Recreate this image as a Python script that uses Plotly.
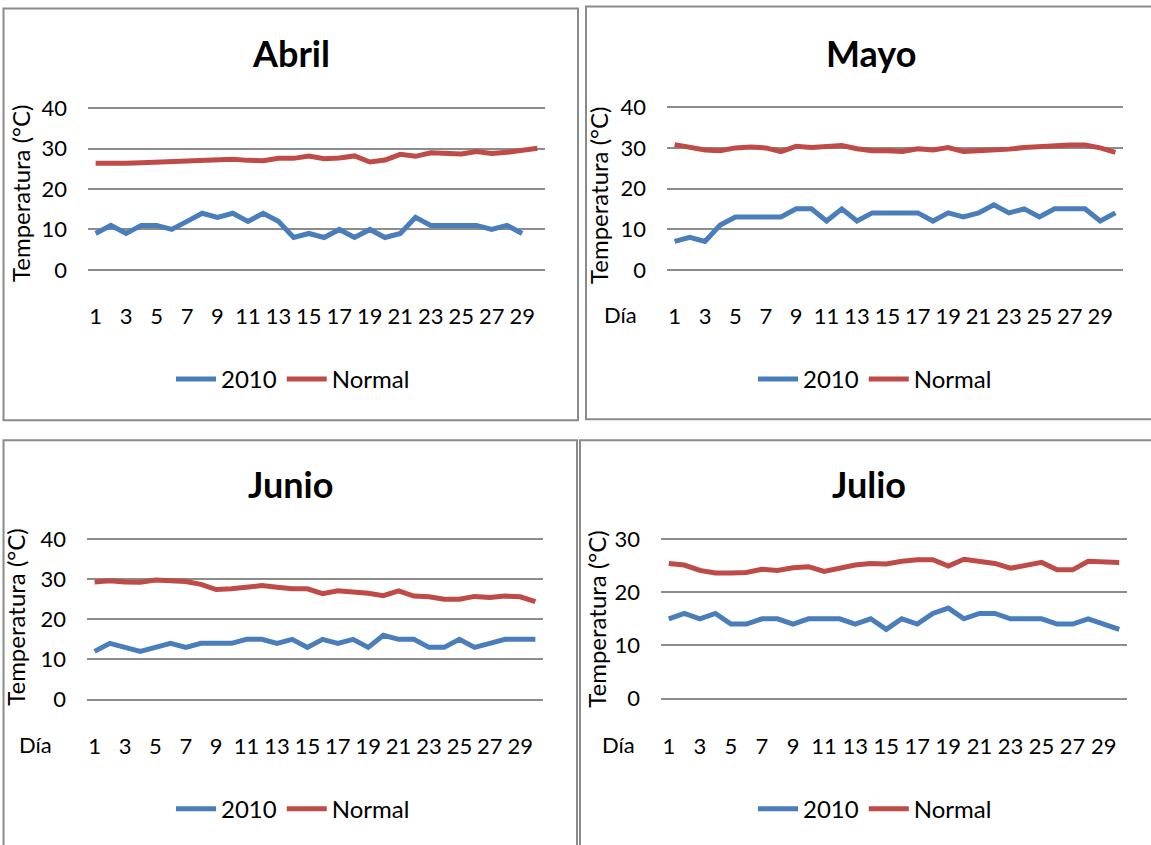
import plotly.graph_objects as go

days = list(range(1, 31))
tick_vals = list(range(1, 31, 2))
tick_text = [str(v) for v in tick_vals]

abril_2010 = [9, 11, 9, 11, 11, 10, 12, 14, 13, 14, 12, 14, 12, 8, 9, 8, 10, 8, 10, 8,
              9, 13, 11, 11, 11, 11, 10, 11, 9, None]
abril_normal = [26.4, 26.3, 26.4, 26.5, 26.7, 26.9, 27.1, 27.2, 27.3, 27.4, 27.1, 27.0, 27.6, 27.6, 28.2,
                27.5, 27.7, 28.2, 26.7, 27.2, 28.6, 28.1, 29.0, 28.7, 28.7, 29.3, 28.8, 29.1, 29.5, 30.1]

mayo_2010 = [7, 8, 7, 11, 13, 13, 13, 13, 15, 15, 12, 15, 12, 14, 14, 14, 14, 12, 14, 13,
             14, 16, 14, 15, 13, 15, 15, 15, 12, 14]
mayo_normal = [30.8, 30.2, 29.5, 29.3, 30.0, 30.2, 30.0, 29.1, 30.4, 30.1, 30.4, 30.6, 29.8, 29.3, 29.3,
               29.1, 29.8, 29.5, 30.1, 29.1, 29.3, 29.4, 29.7, 30.1, 30.4, 30.6, 30.7, 30.7, 30.0, 28.9]

junio_2010 = [12, 14, 13, 12, 13, 14, 13, 14, 14, 14, 15, 15, 14, 15, 13, 15, 14, 15, 13, 16,
              15, 15, 13, 13, 15, 13, 14, 15, 15, 15]
junio_normal = [29.3, 29.6, 29.3, 29.2, 29.8, 29.7, 29.4, 28.7, 27.4, 27.6, 28.0, 28.4, 28.0, 27.6, 27.6,
                26.4, 27.1, 26.9, 26.5, 25.9, 27.1, 25.8, 25.6, 25.0, 25.0, 25.7, 25.4, 25.8, 25.6, 24.4]

julio_2010 = [15, 16, 15, 16, 14, 14, 15, 15, 14, 15, 15, 15, 14, 15, 13, 15, 14, 16, 17, 15,
              16, 16, 15, 15, 15, 14, 14, 15, 14, 13]
julio_normal = [25.4, 25.1, 24.1, 23.6, 23.6, 23.7, 24.3, 24.1, 24.6, 24.8, 23.9, 24.6, 25.1, 25.4, 25.3,
                25.8, 26.1, 26.1, 24.9, 26.2, 25.7, 25.4, 24.5, 25.1, 25.6, 24.2, 24.2, 25.8, 25.8, 25.6]

panels = [
    ("Abril", abril_2010, abril_normal, 40),
    ("Mayo", mayo_2010, mayo_normal, 40),
    ("Junio", junio_2010, junio_normal, 40),
    ("Julio", julio_2010, julio_normal, 30),
]

W, H = 1151, 845
FONT = "Lato"
BLUE = "#4A7EBB"
RED = "#BE4B48"
GRID = "#8C8C8C"
VSTRETCH = 1.02
VCENTER = 430


def px(x):
    return x / W


def py(y):
    y = VCENTER + (y - VCENTER) * VSTRETCH
    return 1 - y / H


# layout geometry (pixels): plot area x0, x1, y_top(max), y_bottom(0)
geo = [
    dict(x0=88, x1=545, yt=107, yb=269, title=(291, 52), ytitle=(20, 192), dia=None, leg=(293, 379),
         box=(3.5, 578, 7, 420)),
    dict(x0=667, x1=1123, yt=106, yb=269, title=(871, 52), ytitle=(598, 194), dia=(620, 314), leg=(875, 379),
         box=(586, 1170, 5, 419)),
    dict(x0=87, x1=543, yt=539, yb=700, title=(290, 484), ytitle=(16, 617), dia=(35, 745), leg=(293, 810),
         box=(3.5, 577, 440, 880)),
    dict(x0=661, x1=1127, yt=539, yb=699, title=(869, 484), ytitle=(597, 619), dia=(618, 745), leg=(875, 810),
         box=(580, 1170, 440, 880)),
]

fig = go.Figure()
annotations = []
shapes = []
layout_extra = {}
PAD = 1.0  # data units of padding so edge gridlines are drawn

for i, ((name, s2010, snorm, ymax), g) in enumerate(zip(panels, geo)):
    n = "" if i == 0 else str(i + 1)
    leg = "legend" if i == 0 else f"legend{i + 1}"
    fig.add_trace(go.Scatter(x=days, y=s2010, mode="lines", name="2010",
                             line=dict(color=BLUE, width=5), xaxis=f"x{n}", yaxis=f"y{n}",
                             legend=leg, connectgaps=False))
    fig.add_trace(go.Scatter(x=days, y=snorm, mode="lines", name="Normal",
                             line=dict(color=RED, width=5), xaxis=f"x{n}", yaxis=f"y{n}",
                             legend=leg))
    ppu = (g["yb"] - g["yt"]) / ymax
    dom_bottom = g["yb"] + PAD * ppu
    dom_top = g["yt"] - PAD * ppu
    layout_extra[f"xaxis{n}"] = dict(
        domain=[px(g["x0"]), px(g["x1"])], range=[0.5, 30.5], anchor=f"y{n}",
        tickvals=tick_vals, ticktext=tick_text, showgrid=False, zeroline=False,
        showline=False, ticks="", ticklabelstandoff=27,
        tickfont=dict(family=FONT, size=22, color="black"), fixedrange=True)
    layout_extra[f"yaxis{n}"] = dict(
        domain=[py(dom_bottom), py(dom_top)], range=[-PAD, ymax + PAD], anchor=f"x{n}",
        tickvals=list(range(0, ymax + 1, 10)), showgrid=True, gridcolor=GRID, gridwidth=1.5,
        zeroline=False, showline=False, ticks="", ticklabelstandoff=20,
        tickfont=dict(family=FONT, size=22, color="black"), fixedrange=True)
    layout_extra[leg] = dict(
        orientation="h", x=px(g["leg"][0]), y=py(g["leg"][1]), xanchor="center", yanchor="middle",
        xref="paper", yref="paper", font=dict(family=FONT, size=24, color="black"),
        bgcolor="rgba(0,0,0,0)", itemwidth=40, tracegroupgap=0)
    annotations.append(dict(text=f"<b>{name}</b>", x=px(g["title"][0]), y=py(g["title"][1]),
                            xref="paper", yref="paper", showarrow=False, xanchor="center",
                            yanchor="middle", font=dict(family=FONT, size=36, color="black")))
    annotations.append(dict(text="Temperatura (°C)", x=px(g["ytitle"][0]), y=py(g["ytitle"][1]),
                            xref="paper", yref="paper", showarrow=False, textangle=-90,
                            xanchor="center", yanchor="middle",
                            font=dict(family=FONT, size=24, color="black")))
    if g["dia"]:
        annotations.append(dict(text="Día", x=px(g["dia"][0]), y=py(g["dia"][1]),
                                xref="paper", yref="paper", showarrow=False,
                                xanchor="center", yanchor="middle",
                                font=dict(family=FONT, size=22, color="black")))
    bx0, bx1, by0, by1 = g["box"]
    shapes.append(dict(type="rect", xref="paper", yref="paper", x0=px(bx0), x1=px(bx1),
                       y0=py(by1), y1=py(by0), line=dict(color="#8A8A8A", width=2),
                       fillcolor="rgba(0,0,0,0)", layer="below"))

fig.update_layout(
    width=W, height=H, margin=dict(l=0, r=0, t=0, b=0), autosize=False,
    paper_bgcolor="white", plot_bgcolor="white",
    annotations=annotations, shapes=shapes, showlegend=True,
    **layout_extra,
)

fig.write_html(
    "out.html",
    config={"responsive": False, "displayModeBar": False},
    post_script="document.body.style.margin='0';document.body.style.padding='0';"
                "document.body.style.overflow='hidden';",
)
